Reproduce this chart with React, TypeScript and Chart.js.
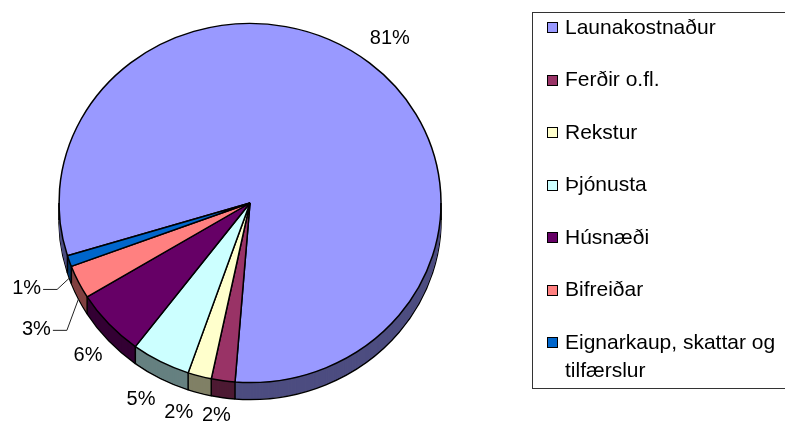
import React, { useEffect, useRef } from 'react';
import { Chart, registerables } from 'chart.js';

Chart.register(...registerables);

// ---- data ----
const categories = [
  'Launakostnaður',
  'Ferðir o.fl.',
  'Rekstur',
  'Þjónusta',
  'Húsnæði',
  'Bifreiðar',
  'Eignarkaup, skattar og tilfærslur',
];
const legendLines = [
  ['Launakostnaður'],
  ['Ferðir o.fl.'],
  ['Rekstur'],
  ['Þjónusta'],
  ['Húsnæði'],
  ['Bifreiðar'],
  ['Eignarkaup, skattar og', 'tilfærslur'],
];
const shares = [81, 2, 2, 5, 6, 3, 1];

// ---- styles ----
const topColors = ['#9999FF', '#993366', '#FFFFCC', '#CCFFFF', '#660066', '#FF8080', '#0066CC'];
const sideColors = ['#4D4D80', '#4D1A33', '#808066', '#668080', '#330033', '#804040', '#003366'];
const labelNudges = [[-4, -5], [-2, 0], [-12, 2], [-4, 5], [4, 3], [-12, 23], [-11, 5]];
const leaderLabels = [false, false, false, false, false, true, true];

const PIE = { radius: 191, k: 0.94, depth: 17, rotation: 252.9, labelR: 210, line: 1.5 };
const LEGEND = { left: 532, top: 12, bottom: 388, markerX: 547, marker: 11, textX: 565, first: 15.5, step: 52.5, lineH: 28 };
const FONT = '"Liberation Sans", Arial, sans-serif';

const pie3d = {
  id: 'pie3d',
  beforeDatasetsDraw(chart: any) {
    const ctx = chart.ctx;
    const arcs = chart.getDatasetMeta(0).data;
    const { k, depth } = PIE;
    const cx = arcs[0].x, cy = arcs[0].y;
    for (let off = depth; off >= 1; off--) {
      ctx.save();
      ctx.translate(cx, cy + off);
      ctx.scale(1, k);
      ctx.translate(-cx, -cy);
      arcs.forEach((arc: any, i: number) => {
        const saved = arc.options;
        arc.options = {
          ...saved,
          backgroundColor: sideColors[i],
          borderColor: '#000',
          borderWidth: off === depth ? PIE.line : 0,
        };
        arc.draw(ctx);
        arc.options = saved;
      });
      ctx.restore();
    }
    ctx.save();
    ctx.translate(cx, cy);
    ctx.scale(1, k);
    ctx.translate(-cx, -cy);
  },
  afterDatasetsDraw(chart: any) {
    const ctx = chart.ctx;
    ctx.restore();
    const arcs = chart.getDatasetMeta(0).data;
    const { k, depth } = PIE;
    const cx = arcs[0].x, cy = arcs[0].y, r = arcs[0].outerRadius;
    ctx.save();
    ctx.strokeStyle = '#000';
    ctx.lineWidth = PIE.line;
    const edges: number[] = arcs.map((a: any) => a.startAngle);
    edges.push(0, Math.PI);
    edges.forEach((a) => {
      const s = Math.sin(a);
      if (s < -1e-6) return;
      const x = cx + Math.cos(a) * r;
      const y = cy + s * r * k;
      ctx.beginPath();
      ctx.moveTo(x, y);
      ctx.lineTo(x, y + depth);
      ctx.stroke();
    });
    ctx.restore();
  },
  afterDraw(chart: any) {
    const ctx = chart.ctx;
    const arcs = chart.getDatasetMeta(0).data;
    const { k, depth, labelR } = PIE;
    const cx = arcs[0].x, cy = arcs[0].y, r = arcs[0].outerRadius;
    const total = shares.reduce((a, b) => a + b, 0);
    ctx.save();
    ctx.font = `20px ${FONT}`;
    ctx.fillStyle = '#000';
    ctx.textAlign = 'center';
    ctx.textBaseline = 'middle';
    arcs.forEach((arc: any, i: number) => {
      const mid = (arc.startAngle + arc.endAngle) / 2;
      const c = Math.cos(mid), s = Math.sin(mid);
      const text = Math.round((shares[i] / total) * 100) + '%';
      const w = ctx.measureText(text).width;
      const x = cx + c * labelR + (c * w) / 2 + labelNudges[i][0];
      const y = cy + s * labelR * k + (s > 0 ? depth : s * 7.5) + labelNudges[i][1];
      ctx.fillText(text, x, y);
      if (leaderLabels[i]) {
        ctx.strokeStyle = '#222';
        ctx.lineWidth = 1;
        ctx.beginPath();
        ctx.moveTo(x + w / 2 + 2, y + 0.5);
        ctx.lineTo(x + w / 2 + 16, y + 0.5);
        ctx.lineTo(cx + c * r, cy + s * r * k + depth);
        ctx.stroke();
      }
    });
    ctx.restore();

    // legend
    ctx.save();
    ctx.strokeStyle = '#333';
    ctx.lineWidth = 1;
    ctx.strokeRect(LEGEND.left + 0.5, LEGEND.top + 0.5, chart.width - LEGEND.left + 10, LEGEND.bottom - LEGEND.top);
    ctx.font = `21px ${FONT}`;
    ctx.textAlign = 'left';
    ctx.textBaseline = 'alphabetic';
    legendLines.forEach((lines, i) => {
      const my = LEGEND.top + LEGEND.first + i * LEGEND.step;
      const m = LEGEND.marker;
      ctx.fillStyle = topColors[i];
      ctx.fillRect(LEGEND.markerX, Math.round(my - m / 2), m, m);
      ctx.strokeStyle = '#000';
      ctx.strokeRect(LEGEND.markerX + 0.5, Math.round(my - m / 2) + 0.5, m - 1, m - 1);
      ctx.fillStyle = '#000';
      lines.forEach((ln, j) => {
        ctx.fillText(ln, LEGEND.textX, my + 6 + j * LEGEND.lineH);
      });
    });
    ctx.restore();
  },
};

export default function App() {
  const ref = useRef<HTMLCanvasElement | null>(null);
  useEffect(() => {
    if (!ref.current) return;
    const chart = new Chart(ref.current, {
      type: 'pie',
      data: {
        labels: categories,
        datasets: [
          {
            data: shares,
            backgroundColor: topColors,
            borderColor: '#000',
            borderWidth: PIE.line,
          },
        ],
      },
      options: {
        responsive: false,
        animation: false,
        events: [],
        rotation: PIE.rotation,
        radius: PIE.radius,
        layout: { padding: { left: 0, right: 285, top: 0, bottom: 20 } },
        plugins: {
          legend: { display: false },
          tooltip: { enabled: false },
        },
      } as any,
      plugins: [pie3d],
    });
    return () => chart.destroy();
  }, []);
  return (
    <div style={{ position: 'absolute', left: 0, top: 0, width: 785, height: 426 }}>
      <canvas ref={ref} width={785} height={426} style={{ display: 'block' }} />
    </div>
  );
}
